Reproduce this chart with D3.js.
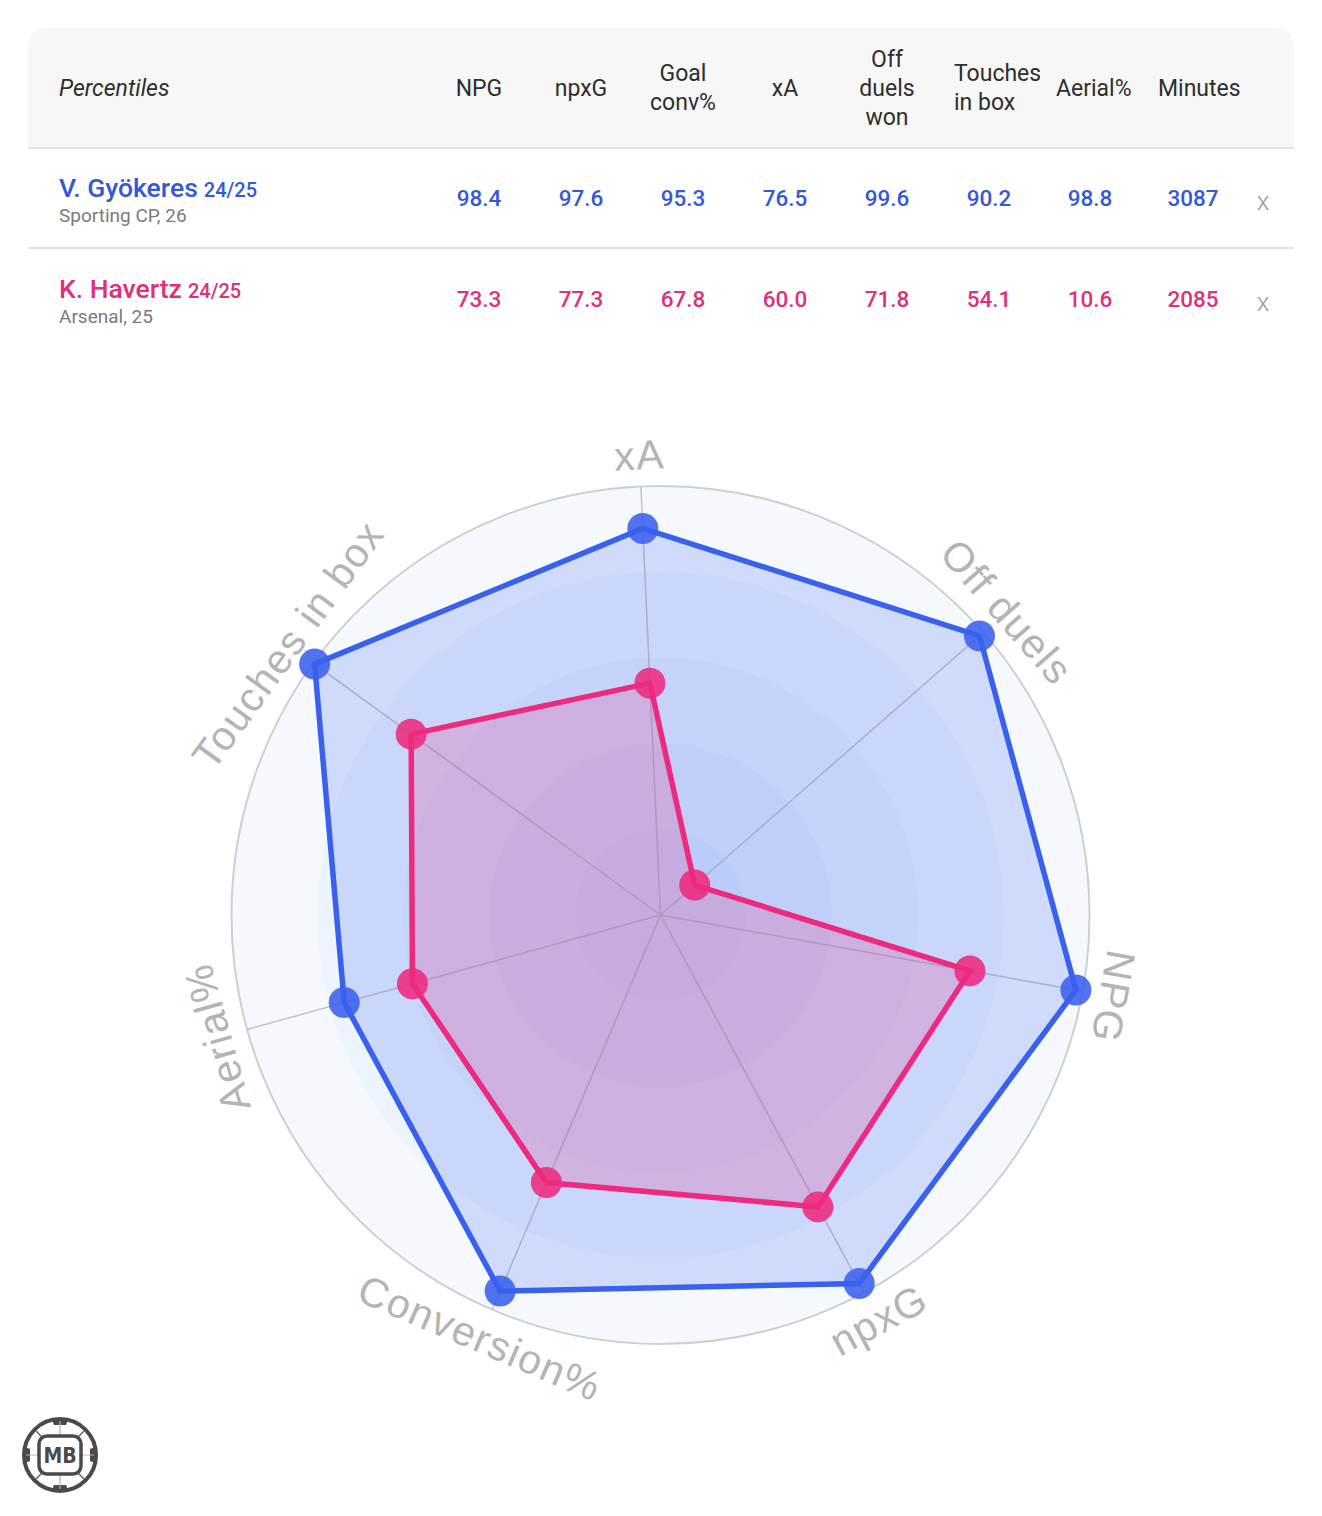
<!DOCTYPE html>
<html>
<head>
<meta charset="utf-8">
<script src="https://cdn.jsdelivr.net/npm/d3@7/dist/d3.min.js"></script>
<style>
  html, body { margin: 0; padding: 0; background: #ffffff; }
  svg { display: block; }
</style>
</head>
<body>
<svg id="chart" width="1322" height="1516"></svg>
<script>
// ---------------- DATA ----------------
const columnKeys = ["NPG", "npxG", "Goal conv%", "xA", "Off duels won", "Touches in box", "Aerial%", "Minutes"];
const headerLines = [["NPG"], ["npxG"], ["Goal", "conv%"], ["xA"], ["Off", "duels", "won"], ["Touches", "in box"], ["Aerial%"], ["Minutes"]];
const playerNames = ["V. Gyökeres", "K. Havertz"];
const playerSeasons = ["24/25", "24/25"];
const playerInfo = ["Sporting CP, 26", "Arsenal, 25"];
const gyokeresPercentiles = [98.4, 97.6, 95.3, 76.5, 99.6, 90.2, 98.8];
const havertzPercentiles = [73.3, 77.3, 67.8, 60.0, 71.8, 54.1, 10.6];
const playerMinutes = [3087, 2085];
// Radar axis labels, clockwise starting from the first spoke (as shown on the radar)
const radarLabels = ["NPG", "npxG", "Conversion%", "Aerial%", "Touches in box", "xA", "Off duels"];
const ringLevels = [100, 80, 60, 40, 20];

// ---------------- STYLE ----------------
const colors = ["#3a60ee", "#ee2a7e"];
const textColors = ["#3558d6", "#e0307a"];
const fontUI = "Roboto, 'Noto Sans', sans-serif";
const svg = d3.select("#chart");

// ---------------- TABLE ----------------
const tX0 = 28, tX1 = 1294, tY0 = 28, headerH = 119, rowH = 100;
const defs = svg.append("defs");

svg.append("path")
  .attr("d", `M${tX0},${tY0 + headerH} L${tX0},${tY0 + 20} Q${tX0},${tY0} ${tX0 + 20},${tY0} L${tX1 - 20},${tY0} Q${tX1},${tY0} ${tX1},${tY0 + 20} L${tX1},${tY0 + headerH} Z`)
  .attr("fill", "#f7f7f7");

[tY0 + headerH, tY0 + headerH + rowH].forEach(y => {
  svg.append("rect").attr("x", tX0).attr("y", y).attr("width", tX1 - tX0).attr("height", 2).attr("fill", "#e4e4e4");
});

const colScale = d3.scaleBand().domain(columnKeys).range([428, 1244]).paddingInner(0);

svg.append("text")
  .attr("x", 59).attr("y", 88)
  .attr("dominant-baseline", "central")
  .attr("font-family", fontUI).attr("font-style", "italic")
  .attr("font-size", 23).attr("fill", "#2e2e2e")
  .text("Percentiles");

columnKeys.forEach((key, i) => {
  const x0 = colScale(key), bw = colScale.bandwidth();
  const clipId = "clip" + i;
  defs.append("clipPath").attr("id", clipId)
    .append("rect").attr("x", x0).attr("y", tY0).attr("width", bw).attr("height", headerH);
  const lines = headerLines[i];
  const g = svg.append("g").attr("clip-path", `url(#${clipId})`);
  const lh = 29;
  const startY = 88 - (lines.length - 1) * lh / 2;
  const t = g.append("text")
    .attr("font-family", fontUI).attr("font-size", 23).attr("fill", "#2e2e2e");
  lines.forEach((ln, j) => {
    t.append("tspan").attr("x", x0 + bw / 2).attr("y", startY + j * lh)
      .attr("dominant-baseline", "central").text(ln);
  });
  let maxW = 0;
  t.selectAll("tspan").each(function () { maxW = Math.max(maxW, this.getComputedTextLength()); });
  const pad = 16;
  if (maxW > bw - 2 * pad) {
    t.attr("text-anchor", "start");
    t.selectAll("tspan").attr("x", x0 + pad);
  } else {
    t.attr("text-anchor", "middle");
  }
});

const fmt = d3.format(".1f");
const percentileSets = [gyokeresPercentiles, havertzPercentiles];
playerNames.forEach((name, p) => {
  const rowTop = tY0 + headerH + 2 + p * (rowH + 1);
  const nameBase = rowTop + 48;
  const nameText = svg.append("text")
    .attr("x", 59).attr("y", nameBase)
    .attr("font-family", fontUI).attr("font-weight", 500)
    .attr("fill", textColors[p]);
  nameText.append("tspan").attr("font-size", 26.5).text(name);
  nameText.append("tspan").attr("font-size", 20).attr("dx", 6).text(playerSeasons[p]);
  svg.append("text")
    .attr("x", 59).attr("y", nameBase + 25)
    .attr("font-family", fontUI).attr("font-size", 19)
    .attr("fill", "#7a7a7a")
    .text(playerInfo[p]);

  const vals = percentileSets[p].map(v => fmt(v)).concat([String(playerMinutes[p])]);
  vals.forEach((v, i) => {
    svg.append("text")
      .attr("x", colScale(columnKeys[i]) + colScale.bandwidth() / 2 - (i === 6 ? 1 : 0))
      .attr("y", rowTop + 49)
      .attr("text-anchor", "middle").attr("dominant-baseline", "central")
      .attr("font-family", fontUI).attr("font-weight", 500).attr("font-size", 22.5)
      .attr("fill", textColors[p])
      .text(v);
  });
  svg.append("text")
    .attr("x", 1263).attr("y", rowTop + 52)
    .attr("text-anchor", "middle").attr("dominant-baseline", "central")
    .attr("font-family", fontUI).attr("font-weight", 300).attr("font-size", 26)
    .attr("fill", "#9a9a9a")
    .text("x");
});

// ---------------- RADAR ----------------
const cx = 660.5, cy = 915, R = 429;
const rScale = d3.scaleLinear().domain([0, 100]).range([0, R]);
const n = radarLabels.length;
const startDeg = 100.24;
const angleOf = i => (startDeg + i * 360 / n) * Math.PI / 180;

const radar = svg.append("g").attr("transform", `translate(${cx},${cy})`);

const bandColors = ["#f5f9fe", "#eef4fd", "#e8f0fc", "#e2ecfb", "#dce8fb"];
radar.selectAll("circle.band").data(ringLevels).join("circle")
  .attr("class", "band")
  .attr("r", d => rScale(d))
  .attr("fill", (d, i) => bandColors[i]);

radar.append("circle").attr("r", rScale(100)).attr("fill", "none")
  .attr("stroke", "#cfcfcf").attr("stroke-width", 2);

radar.selectAll("line.spoke").data(radarLabels).join("line")
  .attr("class", "spoke")
  .attr("x1", 0).attr("y1", 0)
  .attr("x2", (d, i) => rScale(100) * Math.sin(angleOf(i)))
  .attr("y2", (d, i) => -rScale(100) * Math.cos(angleOf(i)))
  .attr("stroke", "#c2c3cb").attr("stroke-width", 1.5);

const lineGen = d3.lineRadial()
  .angle((d, i) => angleOf(i))
  .radius(d => rScale(d))
  .curve(d3.curveLinearClosed);

percentileSets.forEach((vals, p) => {
  radar.append("path")
    .attr("d", lineGen(vals))
    .attr("fill", colors[p]).attr("fill-opacity", 0.2)
    .attr("stroke", colors[p]).attr("stroke-width", 5.5)
    .attr("stroke-linejoin", "miter");
  radar.selectAll(null).data(vals).join("circle")
    .attr("cx", (d, i) => rScale(d) * Math.sin(angleOf(i)))
    .attr("cy", (d, i) => -rScale(d) * Math.cos(angleOf(i)))
    .attr("r", 15.5)
    .attr("fill", colors[p]).attr("fill-opacity", 0.88);
});

const labelR = 460;
radar.selectAll("text.axis").data(radarLabels).join("text")
  .attr("class", "axis")
  .attr("transform", (d, i) => {
    const deg = startDeg + i * 360 / n;
    const a = deg * Math.PI / 180;
    const x = labelR * Math.sin(a), y = -labelR * Math.cos(a);
    let norm = ((deg % 360) + 360) % 360;
    let rot = norm > 180 ? norm - 360 : norm;
    if (norm > 130 && norm < 230) rot = norm - 180;
    return `translate(${x},${y}) rotate(${rot})`;
  })
  .attr("text-anchor", "middle").attr("dominant-baseline", "central")
  .attr("font-family", "'Liberation Sans', Arial, sans-serif")
  .attr("font-size", 41).attr("letter-spacing", 1.5)
  .attr("fill", "#b4b4b4")
  .text(d => d);

// ---------------- LOGO ----------------
const logo = svg.append("g").attr("transform", "translate(60,1455)");
logo.append("circle").attr("r", 36).attr("fill", "#ffffff").attr("stroke", "#4a4a4a").attr("stroke-width", 4);
[0, 90, 180, 270].forEach(a => {
  logo.append("path")
    .attr("transform", `rotate(${a})`)
    .attr("d", "M-8,-35 L8,-35 L6,-30 L-6,-30 Z")
    .attr("fill", "#4a4a4a");
});
[45, 135, 225, 315].forEach(a => {
  logo.append("line").attr("transform", `rotate(${a})`)
    .attr("x1", 0).attr("y1", -20).attr("x2", 0).attr("y2", -34)
    .attr("stroke", "#6a6a6a").attr("stroke-width", 1.5);
});
logo.append("line").attr("x1", 0).attr("y1", -34).attr("x2", 0).attr("y2", 34).attr("stroke", "#a9a9d6").attr("stroke-width", 1.2);
logo.append("line").attr("x1", -34).attr("y1", 0).attr("x2", 34).attr("y2", 0).attr("stroke", "#e2a3c6").attr("stroke-width", 1.2);
logo.append("rect").attr("x", -21).attr("y", -19).attr("width", 42).attr("height", 38).attr("rx", 8)
  .attr("fill", "#ffffff").attr("stroke", "#4a4a4a").attr("stroke-width", 3.5);
logo.append("text").attr("text-anchor", "middle").attr("dominant-baseline", "central")
  .attr("y", 1).attr("font-family", "'DejaVu Sans Condensed', 'DejaVu Sans', sans-serif")
  .attr("font-weight", "bold").attr("font-size", 21).attr("fill", "#4a4a4a").text("MB");
</script>
</body>
</html>
